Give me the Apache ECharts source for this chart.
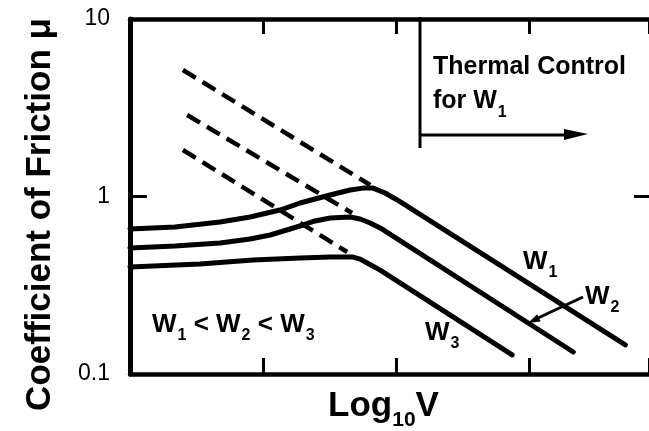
<!DOCTYPE html>
<html>
<head>
<meta charset="utf-8">
<script src="https://cdn.jsdelivr.net/npm/echarts@6/dist/echarts.min.js"></script>
<style>html,body{margin:0;padding:0;background:#fff;}#c{width:649px;height:431px;}</style>
</head>
<body>
<div id="c"></div>
<script>
// x = log10 V (arbitrary units), y = coefficient of friction (log scale)
const yTicks = [0.1, 1, 10];
const xRange = [0, 3.9];
const w1 = [[0,0.656],[0.338,0.673],[0.677,0.718],[0.902,0.767],[1.128,0.839],[1.278,0.919],[1.391,0.968],[1.504,1.02],[1.654,1.088],[1.752,1.115],[1.827,1.115],[1.917,1.046],[2.008,0.956],[3.722,0.146]];
const w2 = [[0,0.513],[0.338,0.526],[0.677,0.547],[0.902,0.576],[1.053,0.607],[1.203,0.656],[1.301,0.691],[1.391,0.728],[1.504,0.757],[1.654,0.767],[1.729,0.747],[1.805,0.709],[1.88,0.665],[3.331,0.133]];
const w3 = [[0,0.401],[0.526,0.417],[0.925,0.439],[1.278,0.45],[1.504,0.456],[1.677,0.456],[1.729,0.444],[1.782,0.422],[1.88,0.385],[2.872,0.128]];
const d1 = [[0.398,5.16],[1.805,1.161]];
const d2 = [[0.429,2.88],[1.669,0.807]];
const d3 = [[0.398,1.828],[1.632,0.487]];

const chart = echarts.init(document.getElementById('c'), null, {renderer:'canvas'});
const FF = '"Liberation Sans", Arial, sans-serif';
const solid = (name, data) => ({name, type:'line', data, showSymbol:false, smooth:false,
  lineStyle:{color:'#000', width:5, cap:'round', join:'round'}, z:3});
const dashed = (name, data) => ({name, type:'line', data, showSymbol:false,
  lineStyle:{color:'#000', width:4.5, type:[15,8]}, z:2});
const sub = {
  w:{fontFamily:FF, fontWeight:'bold', fontSize:26, lineHeight:28, verticalAlign:'top', color:'#000'},
  s:{fontFamily:FF, fontWeight:'bold', fontSize:16, padding:[16,0,0,1], verticalAlign:'top', color:'#000'}
};
chart.setOption({
  animation:false,
  grid:{left:130, right:0, top:19, bottom:57, containLabel:false, outerBoundsMode:'none'},
  xAxis:[{
    type:'value', min:xRange[0], max:xRange[1], interval:1, position:'bottom',
    name:'Log{s|10}V', nameLocation:'middle', nameGap:12,
    nameTextStyle:{fontFamily:FF, fontWeight:'bold', fontSize:35, lineHeight:40, color:'#000', verticalAlign:'top', padding:[0,12,0,0],
      rich:{s:{fontFamily:FF, fontWeight:'bold', fontSize:21, padding:[24,0,0,0], verticalAlign:'top', color:'#000'}}},
    axisLine:{lineStyle:{color:'#000', width:4.5}},
    axisTick:{inside:true, length:16, lineStyle:{color:'#000', width:3}},
    axisLabel:{show:false}, splitLine:{show:false}
  },{
    type:'value', min:xRange[0], max:xRange[1], interval:1, position:'top',
    axisLine:{lineStyle:{color:'#000', width:4.5}},
    axisTick:{inside:true, length:15, lineStyle:{color:'#000', width:3}},
    axisLabel:{show:false}, splitLine:{show:false}
  }],
  yAxis:[{
    type:'log', logBase:10, min:yTicks[0], max:yTicks[yTicks.length-1], position:'left',
    name:'Coefficient of Friction μ', nameLocation:'middle', nameGap:72, nameRotate:90,
    nameTextStyle:{fontFamily:FF, fontWeight:'bold', fontSize:35, color:'#000', padding:[0,36,0,0]},
    axisLine:{lineStyle:{color:'#000', width:5}},
    axisTick:{inside:true, length:17, lineStyle:{color:'#000', width:3}},
    axisLabel:{fontFamily:FF, fontSize:23, color:'#000', margin:20,
      formatter:(v)=> String(+v.toPrecision(3))},
    splitLine:{show:false}, minorTick:{show:false}
  }],
  series:[solid('W1', w1), solid('W2', w2), solid('W3', w3), dashed('W1 extrapolated', d1), dashed('W2 extrapolated', d2), dashed('W3 extrapolated', d3)]
});
const yOne = chart.convertToPixel({yAxisIndex:0}, 1);
chart.setOption({
  graphic:[
    {type:'line', shape:{x1:634,y1:yOne,x2:649,y2:yOne}, style:{stroke:'#000', lineWidth:3}},
    {type:'line', shape:{x1:420,y1:17,x2:420,y2:148}, style:{stroke:'#000', lineWidth:3}},
    {type:'line', shape:{x1:420,y1:135,x2:568,y2:135}, style:{stroke:'#000', lineWidth:3}},
    {type:'polygon', shape:{points:[[588,134],[564,129],[564,140]]}, style:{fill:'#000'}},
    {type:'text', x:433, y:67, style:{text:'Thermal Control', fontFamily:FF, fontWeight:'bold', fontSize:25, fill:'#000', verticalAlign:'middle'}},
    {type:'text', x:433, y:89, style:{text:'{t|for W}{s|1}', rich:{t:{fontFamily:FF, fontWeight:'bold', fontSize:25, lineHeight:28, verticalAlign:'top', color:'#000'}, s:sub.s}, verticalAlign:'top'}},
    {type:'text', x:152, y:312, style:{text:'{w|W}{s|1}{w| < W}{s|2}{w| < W}{s|3}', rich:sub, verticalAlign:'top'}},
    {type:'text', x:523, y:249, style:{text:'{w|W}{s|1}', rich:sub, verticalAlign:'top'}},
    {type:'text', x:585, y:284, style:{text:'{w|W}{s|2}', rich:sub, verticalAlign:'top'}},
    {type:'text', x:425, y:320, style:{text:'{w|W}{s|3}', rich:sub, verticalAlign:'top'}},
    {type:'line', shape:{x1:583,y1:297,x2:538,y2:318}, style:{stroke:'#000', lineWidth:3}},
    {type:'polygon', shape:{points:[[528,323],[540.6,321.5],[537.2,314.3]]}, style:{fill:'#000'}}
  ]
});
</script>
</body>
</html>
